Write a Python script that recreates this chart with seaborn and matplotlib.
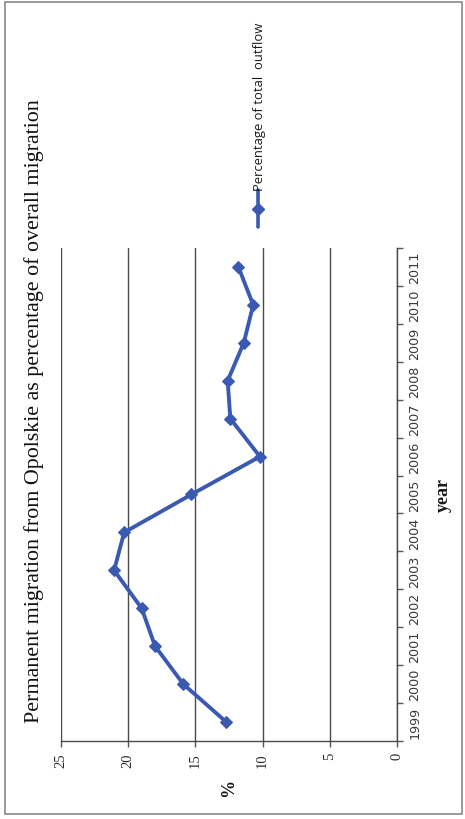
import matplotlib
matplotlib.use("Agg")
import matplotlib.pyplot as plt
import seaborn as sns
import pandas as pd
from matplotlib.lines import Line2D
from matplotlib.patches import Rectangle

# ---- data ----
years = [1999, 2000, 2001, 2002, 2003, 2004, 2005, 2006, 2007, 2008, 2009, 2010, 2011]
pct_outflow = [12.7, 15.9, 18.0, 19.0, 21.05, 20.3, 15.3, 10.2, 12.4, 12.6, 11.4, 10.7, 11.8]
pct_ticks = [0, 5, 10, 15, 20, 25]
title = "Permanent migration from Opolskie as percentage of overall migration"
series_name = "Percentage of total  outflow"

df = pd.DataFrame({"year": years, "pct": pct_outflow})

sns.set_theme(style="white")
plt.rcParams["font.family"] = ["DejaVu Sans"]

W, H = 465, 820
fig = plt.figure(figsize=(W / 100, H / 100), dpi=100)
fig.patch.set_facecolor("white")

# plot area (rotated chart: values horizontal, years vertical)
L, R, T, B = 61, 397, 249, 742
ax = fig.add_axes([L / W, 1 - B / H, (R - L) / W, (B - T) / H])
ax.set_facecolor("white")

line_color = "#3a5ab2"
sns.lineplot(data=df, x="pct", y="year", orient="y", sort=False, ax=ax,
             color=line_color, linewidth=2.8, marker="D", markersize=6.5,
             markeredgecolor=line_color, markerfacecolor=line_color)

ax.set_xlim(25, 0)
ax.set_ylim(years[0] - 0.5, years[-1] + 0.5)

# value axis (horizontal, at bottom)
ax.set_xticks(pct_ticks)
ax.set_xticklabels([str(v) for v in pct_ticks], rotation=90,
                   family="Liberation Serif", fontsize=10.5, color="#2a2a2a")
ax.tick_params(axis="x", bottom=True, length=4, width=1, color="#555555", pad=4)
ax.grid(axis="x", color="#4a4a4a", linewidth=1.0)
ax.grid(axis="y", visible=False)

# category axis (vertical, on right)
ax.yaxis.tick_right()
ax.set_yticks(years)
ax.set_yticklabels([str(y) for y in years], rotation=90, va="center",
                   fontsize=9.2, color="#3a3a3a")
ax.tick_params(axis="y", which="major", length=0, pad=8)
ax.set_yticks([y - 0.5 for y in years] + [years[-1] + 0.5], minor=True)
ax.tick_params(axis="y", which="minor", right=True, length=4, width=1,
               color="#555555")

for s in ["top", "left"]:
    ax.spines[s].set_visible(False)
for s in ["right", "bottom"]:
    ax.spines[s].set_visible(True)
    ax.spines[s].set_color("#4a4a4a")
    ax.spines[s].set_linewidth(1.0)

ax.set_xlabel("")
ax.set_ylabel("")

# axis titles
fig.text(229 / W, 1 - 788 / H, "%", rotation=90, ha="center", va="center",
         family="Liberation Serif", fontweight="bold", fontsize=13, color="#1a1a1a")
fig.text(443 / W, 1 - 495 / H, "year", rotation=90, ha="center", va="center",
         family="Liberation Serif", fontweight="bold", fontsize=13, color="#1a1a1a")

# chart title
fig.text(34 / W, 1 - 411 / H, title, rotation=90, ha="center", va="center",
         family="Liberation Serif", fontsize=15.8, color="#111111")

# legend (rotated)
lx = 258 / W
fig.add_artist(Line2D([lx, lx], [1 - 228 / H, 1 - 191 / H], transform=fig.transFigure,
                      color=line_color, linewidth=2.6))
fig.add_artist(Line2D([lx], [1 - 210 / H], transform=fig.transFigure, color=line_color,
                      marker="D", markersize=6.5, linestyle="none"))
fig.text(lx + 1 / W, 1 - 191 / H, series_name, rotation=90, ha="center", va="bottom",
         fontsize=9.4, color="#1a1a1a", family="Open Sans")

# outer chart border
fig.add_artist(Rectangle((5 / W, 1 - 815 / H), 457 / W, 812 / H,
                         transform=fig.transFigure, fill=False,
                         edgecolor="#888888", linewidth=1.2))

fig.savefig("out.png", dpi=100, facecolor="white")
